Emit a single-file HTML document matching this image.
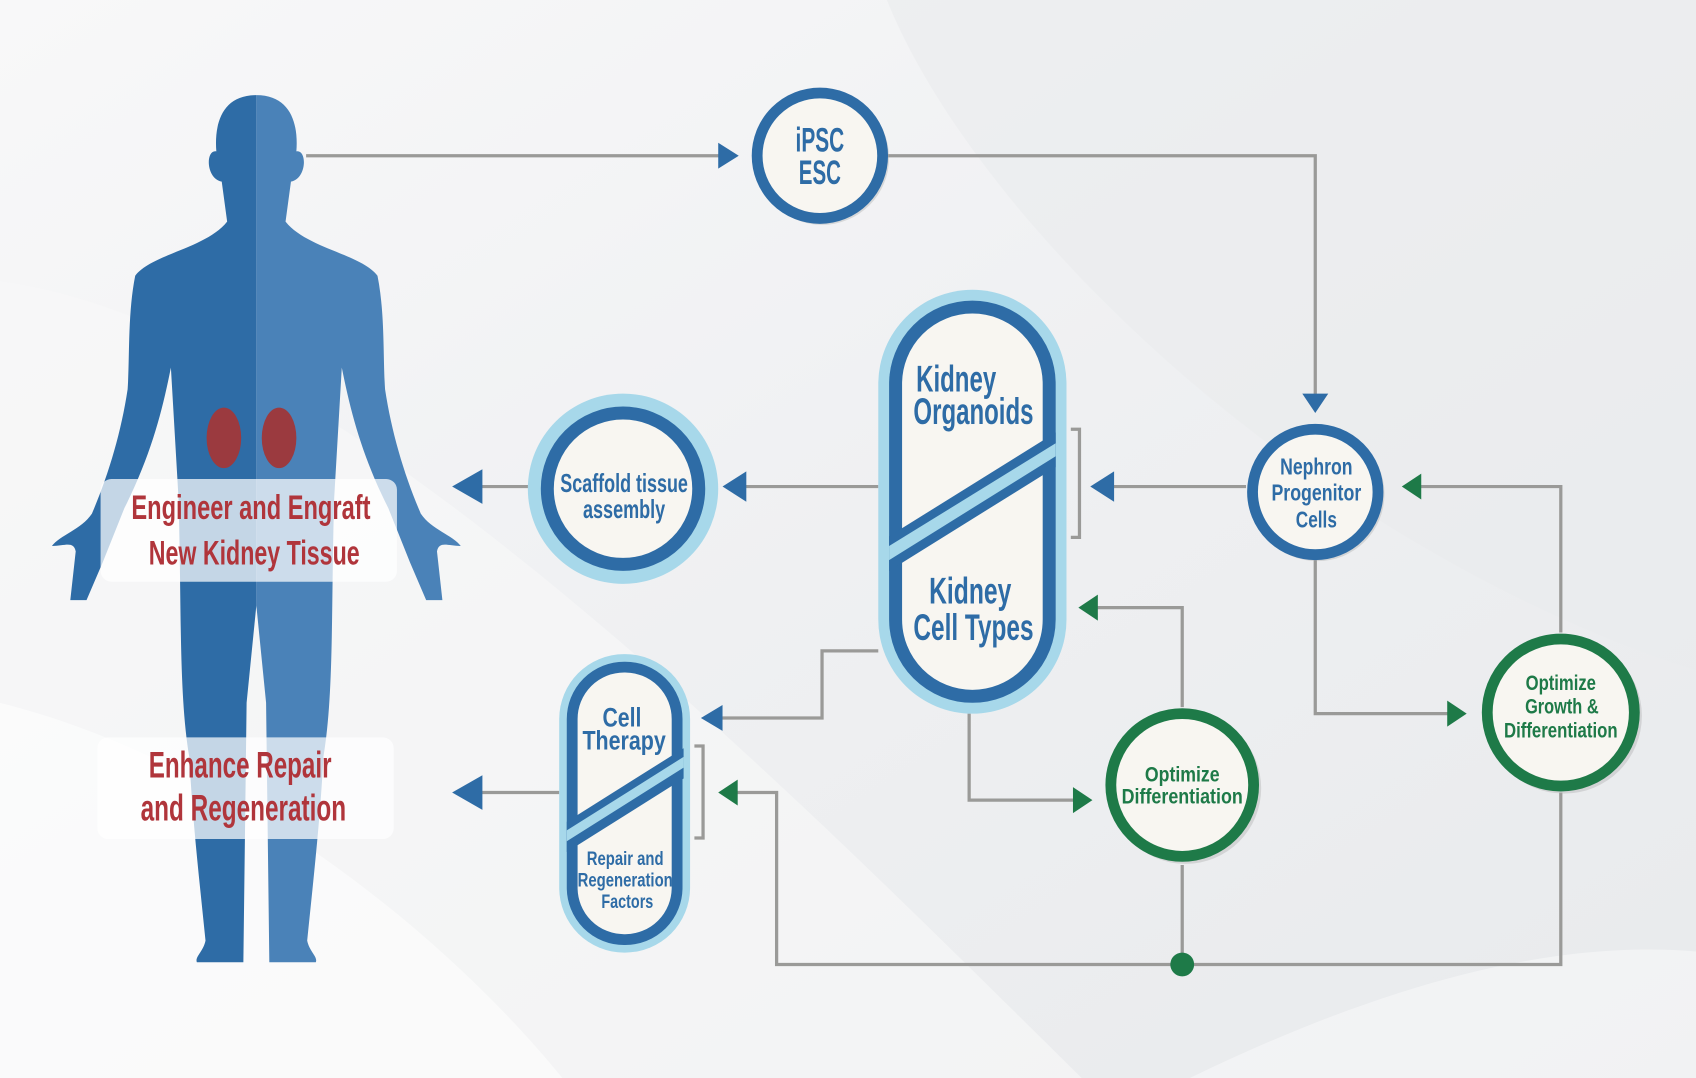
<!DOCTYPE html>
<html><head><meta charset="utf-8"><style>
html,body{margin:0;padding:0;background:#f2f3f4;}
svg{display:block;}
text{font-family:"Liberation Sans Narrow","Liberation Sans",sans-serif;font-weight:bold;text-anchor:middle;}
</style></head><body>
<svg width="1696" height="1078" viewBox="0 0 1568 997" preserveAspectRatio="none" xmlns="http://www.w3.org/2000/svg">
<defs>
<linearGradient id="bg" x1="0" y1="0" x2="1" y2="1">
<stop offset="0" stop-color="#f8f8f9"/><stop offset="0.5" stop-color="#eff0f2"/><stop offset="1" stop-color="#e8eaec"/>
</linearGradient>
</defs>
<rect width="1568" height="997" fill="url(#bg)"/>
<path d="M820 0 C 900 200, 1200 500, 1568 620 L1568 0 Z" fill="#e9ebed" opacity="0.6"/>
<path d="M0 260 C 300 300, 700 700, 1000 997 L0 997 Z" fill="#f8f8f9" opacity="0.6"/>
<path d="M0 650 C 200 700, 400 850, 520 997 L0 997 Z" fill="#ffffff" opacity="0.5"/>
<path d="M1100 997 C 1300 900, 1450 870, 1568 880 L1568 997 Z" fill="#ffffff" opacity="0.4"/>

<!-- human figure -->
<g>
<path d="M237 88 C 205 88 198 115 200 140 C 190 138 190 165 205 168 L210 205 C 190 230 140 235 125 255 C 118 290 120 330 118 360 C 112 400 100 440 85 475 C 75 490 55 495 48 505 C 60 505 68 500 70 510 L65 555 L80 555 L95 520 L115 470 C 140 420 150 380 158 340 L165 460 C 168 560 165 640 175 700 C 178 760 185 820 190 870 C 188 880 180 885 182 890 L225 890 L228 650 L237 560 Z" fill="#2e6ca6"/>
<path d="M237 88 C 269 88 276 115 274 140 C 284 138 284 165 269 168 L264 205 C 284 230 334 235 349 255 C 356 290 354 330 356 360 C 362 400 374 440 389 475 C 399 490 419 495 426 505 C 414 505 406 500 404 510 L409 555 L394 555 L379 520 L359 470 C 334 420 324 380 316 340 L309 460 C 306 560 309 640 299 700 C 296 760 289 820 284 870 C 286 880 294 885 292 890 L249 890 L246 650 L237 560 Z" fill="#4a82b8"/>
</g>
<ellipse cx="207" cy="405" rx="16" ry="28" fill="#9b3a3f"/>
<ellipse cx="258" cy="405" rx="16" ry="28" fill="#9b3a3f"/>

<rect x="93" y="443" width="274" height="95" rx="10" fill="#ffffff" opacity="0.72"/>
<text x="232" y="480" font-size="32" fill="#b0353b" textLength="221" lengthAdjust="spacingAndGlyphs">Engineer and Engraft</text>
<text x="235" y="522" font-size="32" fill="#b0353b" textLength="195" lengthAdjust="spacingAndGlyphs">New Kidney Tissue</text>
<rect x="90" y="682" width="274" height="94" rx="10" fill="#ffffff" opacity="0.72"/>
<text x="222" y="719" font-size="34" fill="#b0353b" textLength="169" lengthAdjust="spacingAndGlyphs">Enhance Repair</text>
<text x="225" y="759" font-size="34" fill="#b0353b" textLength="190" lengthAdjust="spacingAndGlyphs">and Regeneration</text>

<!-- connectors -->
<g fill="none" stroke="#9a9a98" stroke-width="3">
<path d="M283 144 H680"/>
<path d="M820 144 H1216 V368"/>
<path d="M490 450 H440"/>
<path d="M812 450 H688"/>
<path d="M1152 450 H1028"/>
<path d="M990 397 H998 V497 H990"/>
<path d="M1216 517 V660 H1342"/>
<path d="M1443 585 V450 H1313"/>
<path d="M1443 733 V892 H718 V733 H678"/>
<path d="M1093 654 V562 H1013"/>
<path d="M1093 800 V892"/>
<path d="M896 660 V740 H996"/>
<path d="M812 602 H760 V664 H666"/>
<path d="M517 733 H440"/>
<path d="M642 690 H650 V775 H642"/>
</g>
<g fill="#2e6ca6">
<polygon points="683,144 664,132 664,156"/>
<polygon points="1216,382 1204,364 1228,364"/>
<polygon points="418,450 446,434 446,466"/>
<polygon points="668,450 690,436 690,464"/>
<polygon points="1008,450 1030,436 1030,464"/>
<polygon points="648,664 668,652 668,676"/>
<polygon points="418,733 446,717 446,749"/>
</g>
<g fill="#1e7a48">
<polygon points="1356,660 1338,648 1338,672"/>
<polygon points="1296,450 1314,438 1314,462"/>
<polygon points="664,733 682,721 682,745"/>
<polygon points="997,562 1015,550 1015,574"/>
<polygon points="1010,740 992,728 992,752"/>
<circle cx="1093" cy="892" r="11"/>
</g>

<!-- iPSC -->
<circle cx="760" cy="146" r="62" fill="#b0b0b0" opacity="0.4"/>
<circle cx="758" cy="144" r="58" fill="#f8f6f1" stroke="#2e6ca6" stroke-width="10"/>
<text x="758" y="140" font-size="32" fill="#2e6ca6" textLength="45" lengthAdjust="spacingAndGlyphs">iPSC</text>
<text x="758" y="170" font-size="32" fill="#2e6ca6" textLength="39" lengthAdjust="spacingAndGlyphs">ESC</text>

<!-- Scaffold -->
<circle cx="576" cy="452" r="88" fill="#a7d8ea"/>
<circle cx="576" cy="452" r="70" fill="#f8f6f1" stroke="#2e6ca6" stroke-width="12"/>
<text x="577" y="455" font-size="24" fill="#2e6ca6" textLength="118" lengthAdjust="spacingAndGlyphs">Scaffold tissue</text>
<text x="577" y="479" font-size="24" fill="#2e6ca6" textLength="76" lengthAdjust="spacingAndGlyphs">assembly</text>

<!-- Kidney pill -->
<rect x="812" y="268" width="174" height="392" rx="87" fill="#a7d8ea"/>
<rect x="828" y="284" width="142" height="360" rx="71" fill="#f8f6f1" stroke="#2e6ca6" stroke-width="12"/>
<polygon points="822,496 976,400 976,432 822,528" fill="#2e6ca6"/>
<polygon points="822,505 976,410 976,422 822,518" fill="#a7d8ea"/>
<text x="884" y="362" font-size="34" fill="#2e6ca6" textLength="74" lengthAdjust="spacingAndGlyphs">Kidney</text>
<text x="900" y="392" font-size="34" fill="#2e6ca6" textLength="111" lengthAdjust="spacingAndGlyphs">Organoids</text>
<text x="897" y="558" font-size="34" fill="#2e6ca6" textLength="76" lengthAdjust="spacingAndGlyphs">Kidney</text>
<text x="900" y="592" font-size="34" fill="#2e6ca6" textLength="111" lengthAdjust="spacingAndGlyphs">Cell Types</text>

<!-- Cell therapy pill -->
<rect x="517" y="605" width="121" height="276" rx="60" fill="#a7d8ea"/>
<rect x="529" y="617" width="97" height="252" rx="48" fill="#f8f6f1" stroke="#2e6ca6" stroke-width="10"/>
<polygon points="524,760 632,692 632,720 524,788" fill="#2e6ca6"/>
<polygon points="524,768 632,700 632,710 524,778" fill="#a7d8ea"/>
<text x="575" y="672" font-size="25" fill="#2e6ca6" textLength="36" lengthAdjust="spacingAndGlyphs">Cell</text>
<text x="577" y="693" font-size="25" fill="#2e6ca6" textLength="77" lengthAdjust="spacingAndGlyphs">Therapy</text>
<text x="578" y="800" font-size="18" fill="#2e6ca6" textLength="71" lengthAdjust="spacingAndGlyphs">Repair and</text>
<text x="578" y="820" font-size="18" fill="#2e6ca6" textLength="88" lengthAdjust="spacingAndGlyphs">Regeneration</text>
<text x="580" y="840" font-size="18" fill="#2e6ca6" textLength="48" lengthAdjust="spacingAndGlyphs">Factors</text>

<!-- Nephron -->
<circle cx="1218" cy="457" r="62" fill="#b0b0b0" opacity="0.4"/>
<circle cx="1216" cy="455" r="58" fill="#f8f6f1" stroke="#2e6ca6" stroke-width="10"/>
<text x="1217" y="439" font-size="21" fill="#2e6ca6" textLength="67" lengthAdjust="spacingAndGlyphs">Nephron</text>
<text x="1217" y="463" font-size="21" fill="#2e6ca6" textLength="83" lengthAdjust="spacingAndGlyphs">Progenitor</text>
<text x="1217" y="488" font-size="21" fill="#2e6ca6" textLength="38" lengthAdjust="spacingAndGlyphs">Cells</text>

<!-- Optimize Growth -->
<circle cx="1446" cy="662" r="72" fill="#b0b0b0" opacity="0.4"/>
<circle cx="1443" cy="659" r="68" fill="#f8f6f1" stroke="#1e7a48" stroke-width="10"/>
<text x="1443" y="638" font-size="20" fill="#1e7a48" textLength="65" lengthAdjust="spacingAndGlyphs">Optimize</text>
<text x="1444" y="660" font-size="20" fill="#1e7a48" textLength="68" lengthAdjust="spacingAndGlyphs">Growth &amp;</text>
<text x="1443" y="682" font-size="20" fill="#1e7a48" textLength="105" lengthAdjust="spacingAndGlyphs">Differentiation</text>

<!-- Optimize Differentiation -->
<circle cx="1096" cy="729" r="70" fill="#b0b0b0" opacity="0.4"/>
<circle cx="1093" cy="726" r="66" fill="#f8f6f1" stroke="#1e7a48" stroke-width="10"/>
<text x="1093" y="723" font-size="20" fill="#1e7a48" textLength="69" lengthAdjust="spacingAndGlyphs">Optimize</text>
<text x="1093" y="743" font-size="20" fill="#1e7a48" textLength="112" lengthAdjust="spacingAndGlyphs">Differentiation</text>
</svg>
</body></html>
